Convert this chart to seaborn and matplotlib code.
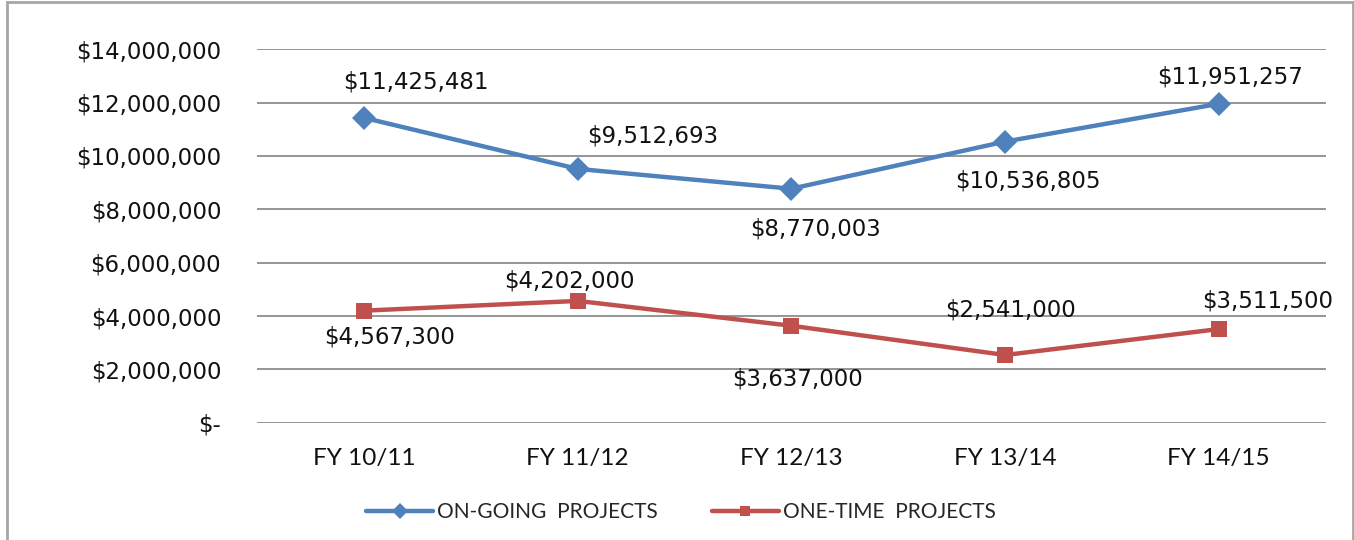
import pandas as pd
import matplotlib.pyplot as plt
import seaborn as sns
from matplotlib.patches import Rectangle
from matplotlib.ticker import FuncFormatter

# --- Data ---
years = ['FY 10/11', 'FY 11/12', 'FY 12/13', 'FY 13/14', 'FY 14/15']
ongoing = [11425481, 9512693, 8770003, 10536805, 11951257]
onetime = [4202000, 4567300, 3637000, 2541000, 3511500]
ongoing_labels = ['$11,425,481', '$9,512,693', '$8,770,003', '$10,536,805', '$11,951,257']
onetime_labels = ['$4,567,300', '$4,202,000', '$3,637,000', '$2,541,000', '$3,511,500']
series_names = ['ON-GOING  PROJECTS', 'ONE-TIME  PROJECTS']

# label offsets in pixels (dx, dy)
ongoing_offsets = [(52, 36), (75, 33), (24, -40), (23, -39), (11, 27)]
onetime_offsets = [(25, -26), (-8, 20), (6, -53), (5, 45), (49, 28)]

blue = '#4F81BD'
red = '#C0504D'

df = pd.DataFrame({
    'year': years + years,
    'value': ongoing + onetime,
    'series': [series_names[0]] * len(years) + [series_names[1]] * len(years),
})

sns.set_style('white')
fig = plt.figure(figsize=(13.54, 5.4), dpi=100)
ax = fig.add_axes([0.19, 0.217, 0.789, 0.692])

sns.lineplot(data=df, x='year', y='value', hue='series', style='series',
             markers={series_names[0]: 'D', series_names[1]: 's'}, dashes=False,
             palette=[blue, red], linewidth=3.2, markersize=12,
             markeredgewidth=0, sort=False, ax=ax)

# data labels
for vals, labels, offs in [(ongoing, ongoing_labels, ongoing_offsets),
                           (onetime, onetime_labels, onetime_offsets)]:
    for i, (v, lab) in enumerate(zip(vals, labels)):
        ax.annotate(lab, (i, v), xytext=offs[i], textcoords='offset pixels',
                    ha='center', va='center', fontsize=16.5, family='DejaVu Sans',
                    color='#111111')

ax.set_xlim(-0.5, 4.5)
ax.set_ylim(0, 14000000)
ax.set_yticks(range(0, 14000001, 2000000))
ax.yaxis.set_major_formatter(FuncFormatter(lambda v, p: '$-' if v == 0 else f'${v:,.0f}'))
ax.yaxis.grid(True, color='#8C8C8C', linewidth=1.3)
ax.set_axisbelow(True)
for s in ax.spines.values():
    s.set_visible(False)
ax.tick_params(axis='y', length=0, pad=26, labelsize=16.5, labelcolor='#111111')
ax.tick_params(axis='x', length=0, pad=18, labelsize=17.5, labelcolor='#111111')
for t in ax.get_xticklabels():
    t.set_family('Lato')
ax.set_xlabel('')
ax.set_ylabel('')

handles, labels = ax.get_legend_handles_labels()
ax.legend(handles, labels, loc='center', bbox_to_anchor=(0.503, 0.052),
          bbox_transform=fig.transFigure, ncol=2, frameon=False,
          prop={'family': 'Lato', 'size': 15}, handlelength=3.2, markerscale=0.65,
          columnspacing=2.6, handletextpad=0.2)

# chart border
fig.patches.append(Rectangle((0.005, -0.01), 0.994, 1.006, transform=fig.transFigure,
                             fill=False, edgecolor='#A6A6A6', linewidth=2))

plt.savefig('out.png', dpi=100)
plt.close()
